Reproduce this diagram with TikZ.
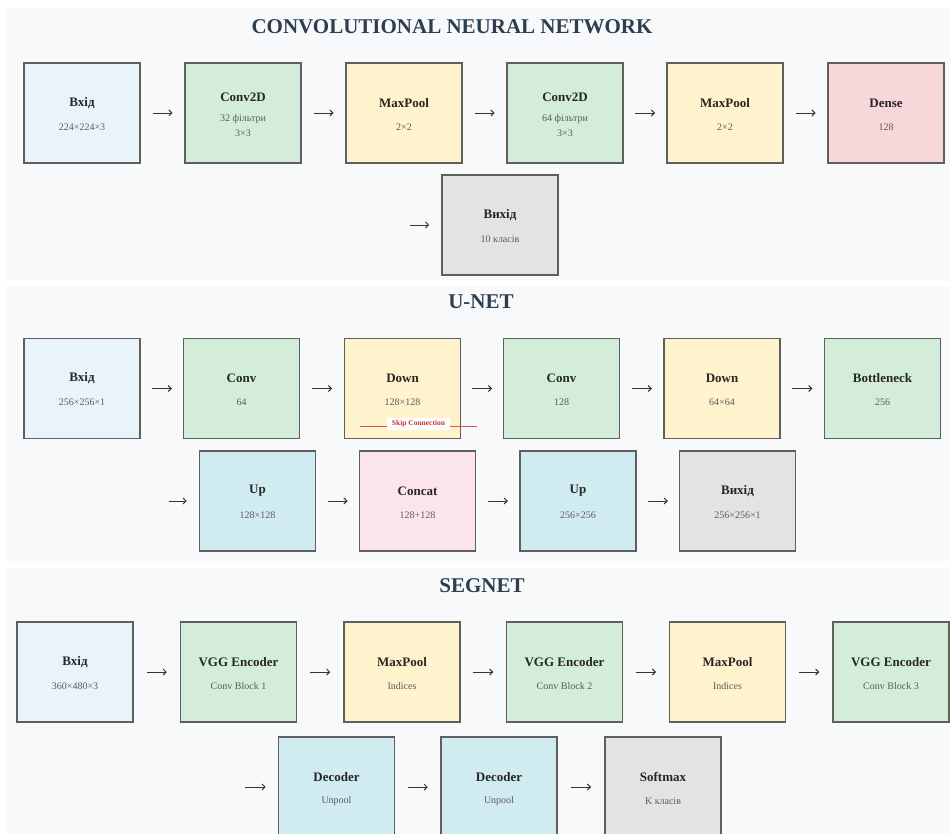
\documentclass[tikz,border=0pt]{standalone}
\usepackage{fontspec}
\setmainfont{Liberation Serif}
\usetikzlibrary{arrows.meta,calc}
\definecolor{secbg}{HTML}{F8F9FA}
\definecolor{cinput}{HTML}{E8F4FA}
\definecolor{cconv}{HTML}{D4EDDA}
\definecolor{cpool}{HTML}{FFF3CD}
\definecolor{cdense}{HTML}{F8D7DA}
\definecolor{cout}{HTML}{E2E3E5}
\definecolor{cup}{HTML}{D1ECF1}
\definecolor{ccat}{HTML}{FCE4EC}
\definecolor{bordc}{HTML}{5F5F5F}
\definecolor{titc}{HTML}{2C3E50}
\definecolor{subc}{HTML}{5A5A5A}
\definecolor{skipc}{HTML}{C0392B}
\definecolor{skipl}{HTML}{D9534F}
\tikzset{
  nnblock/.style={draw=bordc, line width=1.9pt, minimum width=116pt, minimum height=100pt, inner sep=0pt},
  nnttl/.style={font=\fontsize{13}{15}\selectfont\bfseries, text=black!85, inner sep=0pt},
  nnsub/.style={font=\fontsize{10}{15}\selectfont, text=subc, inner sep=0pt, align=center},
  sectitle/.style={font=\fontsize{21}{24}\selectfont\bfseries, text=titc, inner sep=0pt},
  nnarr/.style={draw=black!80, line width=0.9pt, -{Straight Barb[length=3pt,width=6pt]}},
  secbox/.style={fill=secbg, draw=none}
}
\newcommand\nnbox[6]{%
  \node[nnblock, fill=#4] (#1) at (#2,#3) {};
  \node[nnttl] (#1-t) at (#2,#3-10) {#5};
  \node[nnsub] (#1-s) at (#2,#3+14) {#6};
}
\newcommand\nnboxii[6]{%
  \node[nnblock, fill=#4] (#1) at (#2,#3) {};
  \node[nnttl] (#1-t) at (#2,#3-16) {#5};
  \node[nnsub] (#1-s) at (#2,#3+12.5) {#6};
}
\newcommand\nnlink[2]{%
  \draw[nnarr] ($(#1.east)!0.5!(#2.west)+(-10,0)$) -- ($(#1.east)!0.5!(#2.west)+(10,0)$);
}
\begin{document}
\begin{tikzpicture}[x=1pt,y=-1pt]
\useasboundingbox (0,0) rectangle (950,834);
\clip (0,0) rectangle (950,834);
\fill[white] (0,0) rectangle (950,834);
% section backgrounds
\fill[secbox] (7,8) rectangle (950,281);
\fill[secbox] (7,286) rectangle (950,561);
\fill[secbox] (7,568) rectangle (950,840);

% ===== CNN =====
\node[sectitle] (tcnn) at (452,27) {CONVOLUTIONAL NEURAL NETWORK};
\nnbox{c1}{82}{113}{cinput}{Вхід}{224×224×3}
\nnboxii{c2}{243}{113}{cconv}{Conv2D}{32 фільтри\\3×3}
\nnbox{c3}{404}{113}{cpool}{MaxPool}{2×2}
\nnboxii{c4}{565}{113}{cconv}{Conv2D}{64 фільтри\\3×3}
\nnbox{c5}{725}{113}{cpool}{MaxPool}{2×2}
\nnbox{c6}{886}{113}{cdense}{Dense}{128}
\nnbox{c7}{500}{225}{cout}{Вихід}{10 класів}
\nnlink{c1}{c2}
\nnlink{c2}{c3}
\nnlink{c3}{c4}
\nnlink{c4}{c5}
\nnlink{c5}{c6}
\coordinate (c7in) at (410,225);
\draw[nnarr] (c7in) -- ([xshift=-12pt]c7.west);

% ===== U-NET =====
\node[sectitle] (tunet) at (481,302) {U-NET};
\nnbox{u1}{82}{388.5}{cinput}{Вхід}{256×256×1}
\nnbox{u2}{241.5}{388.5}{cconv}{Conv}{64}
\nnbox{u3}{402.5}{388.5}{cpool}{Down}{128×128}
\nnbox{u4}{561.5}{388.5}{cconv}{Conv}{128}
\nnbox{u5}{722}{388.5}{cpool}{Down}{64×64}
\nnbox{u6}{882.5}{388.5}{cconv}{Bottleneck}{256}
\nnbox{u7}{257.5}{501}{cup}{Up}{128×128}
\nnbox{u8}{417.5}{501}{ccat}{Concat}{128+128}
\nnbox{u9}{578}{501}{cup}{Up}{256×256}
\nnbox{u10}{737.5}{501}{cout}{Вихід}{256×256×1}
\nnlink{u1}{u2}
\nnlink{u2}{u3}
\nnlink{u3}{u4}
\nnlink{u4}{u5}
\nnlink{u5}{u6}
\coordinate (u7in) at (169,501);
\draw[nnarr] (u7in) -- ([xshift=-12pt]u7.west);
\nnlink{u7}{u8}
\nnlink{u8}{u9}
\nnlink{u9}{u10}
% skip connection
\coordinate (skipL) at (360,426);
\coordinate (skipR) at (477,426);
\draw[skipl, line width=0.9pt] (skipL) -- (skipR);
\node[fill=white, inner xsep=4.5pt, inner ysep=3pt, text=skipc, font=\fontsize{7.5}{9}\selectfont\bfseries] (skip) at (418.5,424) {Skip Connection};

% ===== SEGNET =====
\node[sectitle] (tseg) at (482,586) {SEGNET};
\nnbox{s1}{75}{672}{cinput}{Вхід}{360×480×3}
\nnbox{s2}{238.5}{672}{cconv}{VGG Encoder}{Conv Block 1}
\nnbox{s3}{402}{672}{cpool}{MaxPool}{Indices}
\nnbox{s4}{564.5}{672}{cconv}{VGG Encoder}{Conv Block 2}
\nnbox{s5}{727.5}{672}{cpool}{MaxPool}{Indices}
\nnbox{s6}{891}{672}{cconv}{VGG Encoder}{Conv Block 3}
\nnbox{s7}{336.5}{787}{cup}{Decoder}{Unpool}
\nnbox{s8}{499}{787}{cup}{Decoder}{Unpool}
\nnbox{s9}{663}{787}{cout}{Softmax}{K класів}
\nnlink{s1}{s2}
\nnlink{s2}{s3}
\nnlink{s3}{s4}
\nnlink{s4}{s5}
\nnlink{s5}{s6}
\coordinate (s7in) at (245,787);
\draw[nnarr] (s7in) -- ([xshift=-12pt]s7.west);
\nnlink{s7}{s8}
\nnlink{s8}{s9}
\end{tikzpicture}
\end{document}
